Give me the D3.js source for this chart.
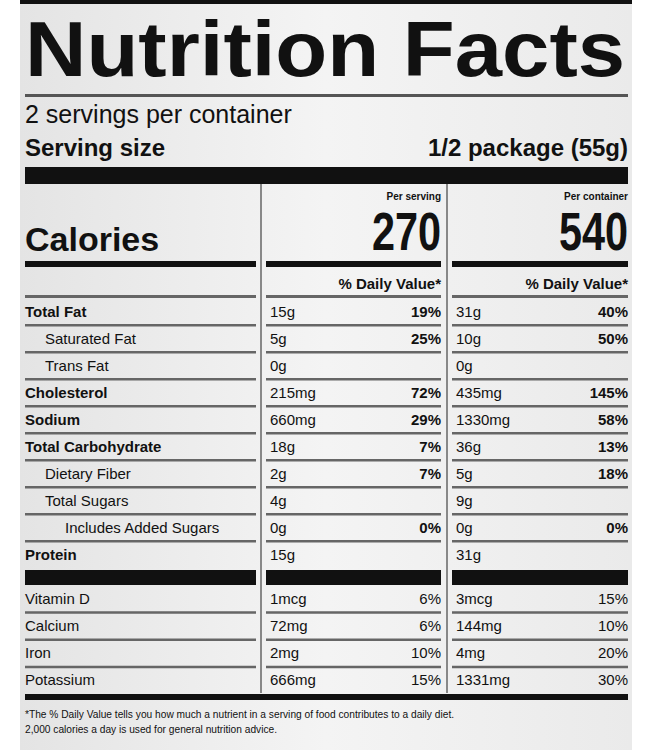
<!DOCTYPE html>
<html><head><meta charset="utf-8">
<script src="https://cdn.jsdelivr.net/npm/d3@7"></script>
<style>body{margin:0;background:#fff}svg{display:block}</style>
</head><body>
<svg id="label" width="650" height="750"></svg>
<script>
// label data
const nutrients = ["Total Fat", "Saturated Fat", "Trans Fat", "Cholesterol", "Sodium", "Total Carbohydrate", "Dietary Fiber", "Total Sugars", "Includes Added Sugars", "Protein"];
const indent = [0, 1, 1, 0, 0, 0, 1, 1, 2, 0];
const boldRow = [true, false, false, true, true, true, false, false, false, true];
const servingAmt = ["15g", "5g", "0g", "215mg", "660mg", "18g", "2g", "4g", "0g", "15g"];
const servingDV = ["19%", "25%", "", "72%", "29%", "7%", "7%", "", "0%", ""];
const containerAmt = ["31g", "10g", "0g", "435mg", "1330mg", "36g", "5g", "9g", "0g", "31g"];
const containerDV = ["40%", "50%", "", "145%", "58%", "13%", "18%", "", "0%", ""];

const vitamins = ["Vitamin D", "Calcium", "Iron", "Potassium"];
const vitServingAmt = ["1mcg", "72mg", "2mg", "666mg"];
const vitServingDV = ["6%", "6%", "10%", "15%"];
const vitContainerAmt = ["3mcg", "144mg", "4mg", "1331mg"];
const vitContainerDV = ["15%", "10%", "20%", "30%"];

const calories = [270, 540];
const calHeads = ["Per serving", "Per container"];

const svg = d3.select("#label");
const font = "'Liberation Sans', Arial, sans-serif";

const defs = svg.append("defs");
const grad = defs.append("linearGradient").attr("id", "bg").attr("x1", 0).attr("x2", 1);
grad.append("stop").attr("offset", "0").attr("stop-color", "#e4e4e4");
grad.append("stop").attr("offset", "0.5").attr("stop-color", "#f4f4f4");
grad.append("stop").attr("offset", "1").attr("stop-color", "#eaeaea");
svg.append("rect").attr("x", 20).attr("y", 0).attr("width", 612).attr("height", 750).attr("fill", "url(#bg)");

const L = 25, R = 628;
// column extents
const cols = [[25, 256], [266, 441], [452, 628]];

function rule(y, h, x0 = L, x1 = R, c = "#111") {
  svg.append("rect").attr("x", x0).attr("y", y).attr("width", x1 - x0).attr("height", h).attr("fill", c);
}
function txt(x, y, s, size, weight = "normal", anchor = "start", extra = {}) {
  const t = svg.append("text").attr("x", x).attr("y", y).text(s)
    .attr("font-family", font).attr("font-size", size).attr("font-weight", weight)
    .attr("text-anchor", anchor).attr("fill", "#111");
  Object.entries(extra).forEach(([k, v]) => t.attr(k, v));
  return t;
}

// header
rule(0, 4, 20, 632);
txt(L, 76, "Nutrition Facts", 77, "bold", "start", {textLength: 600, lengthAdjust: "spacingAndGlyphs"});
rule(94, 3, L, R, "#555");
txt(L, 123, "2 servings per container", 25);
txt(L, 156, "Serving size", 24, "bold");
txt(R, 156, "1/2 package (55g)", 24, "bold", "end");
rule(167, 17);

// column dividers
svg.append("line").attr("x1", 261).attr("x2", 261).attr("y1", 184).attr("y2", 693).attr("stroke", "#888").attr("stroke-width", 2);
svg.append("line").attr("x1", 447).attr("x2", 447).attr("y1", 184).attr("y2", 693).attr("stroke", "#888").attr("stroke-width", 2);

// calories block
txt(L, 251, "Calories", 34, "bold");
calories.forEach((c, i) => {
  const [, x1] = cols[i + 1];
  txt(x1, 200, calHeads[i], 10, "bold", "end");
  txt(x1, 250, c, 46, "bold", "end", {transform: `translate(${x1},250) scale(0.9,1.15) translate(${-x1},-250)`});
});
cols.forEach(([a, b]) => rule(261, 6, a, b));
[1, 2].forEach(i => txt(cols[i][1], 289, "% Daily Value*", 15, "bold", "end"));
cols.forEach(([a, b]) => rule(295, 3, a, b, "#666"));

// nutrient rows
const y = d3.scaleBand().domain(nutrients).range([298, 568]);
nutrients.forEach((n, i) => {
  const y0 = y(n), yb = y0 + y.bandwidth() / 2 + 5;
  txt(L + indent[i] * 20, yb, n, 15, boldRow[i] ? "bold" : "normal");
  txt(cols[1][0] + 4, yb, servingAmt[i], 15);
  txt(cols[1][1], yb, servingDV[i], 15, "bold", "end");
  txt(cols[2][0] + 4, yb, containerAmt[i], 15);
  txt(cols[2][1], yb, containerDV[i], 15, "bold", "end");
  if (i < nutrients.length - 1) {
    const ly = y0 + y.bandwidth() - 1;
    cols.forEach(([a, b]) => rule(ly, 2.5, a, b, "#666"));
  }
});
cols.forEach(([a, b]) => rule(570, 15, a, b));

// vitamins
const yv = d3.scaleBand().domain(vitamins).range([585, 694]);
vitamins.forEach((v, i) => {
  const y0 = yv(v), yb = y0 + yv.bandwidth() / 2 + 5;
  txt(L, yb, v, 15);
  txt(cols[1][0] + 4, yb, vitServingAmt[i], 15);
  txt(cols[1][1], yb, vitServingDV[i], 15, "normal", "end");
  txt(cols[2][0] + 4, yb, vitContainerAmt[i], 15);
  txt(cols[2][1], yb, vitContainerDV[i], 15, "normal", "end");
  if (i < vitamins.length - 1) cols.forEach(([a, b]) => rule(y0 + yv.bandwidth() - 1, 2.5, a, b, "#666"));
});
rule(694, 6);

// footnote
txt(L, 718, "*The % Daily Value tells you how much a nutrient in a serving of food contributes to a daily diet.", 10.2);
txt(L, 733, "2,000 calories a day is used for general nutrition advice.", 10.2);
</script>
</body></html>
